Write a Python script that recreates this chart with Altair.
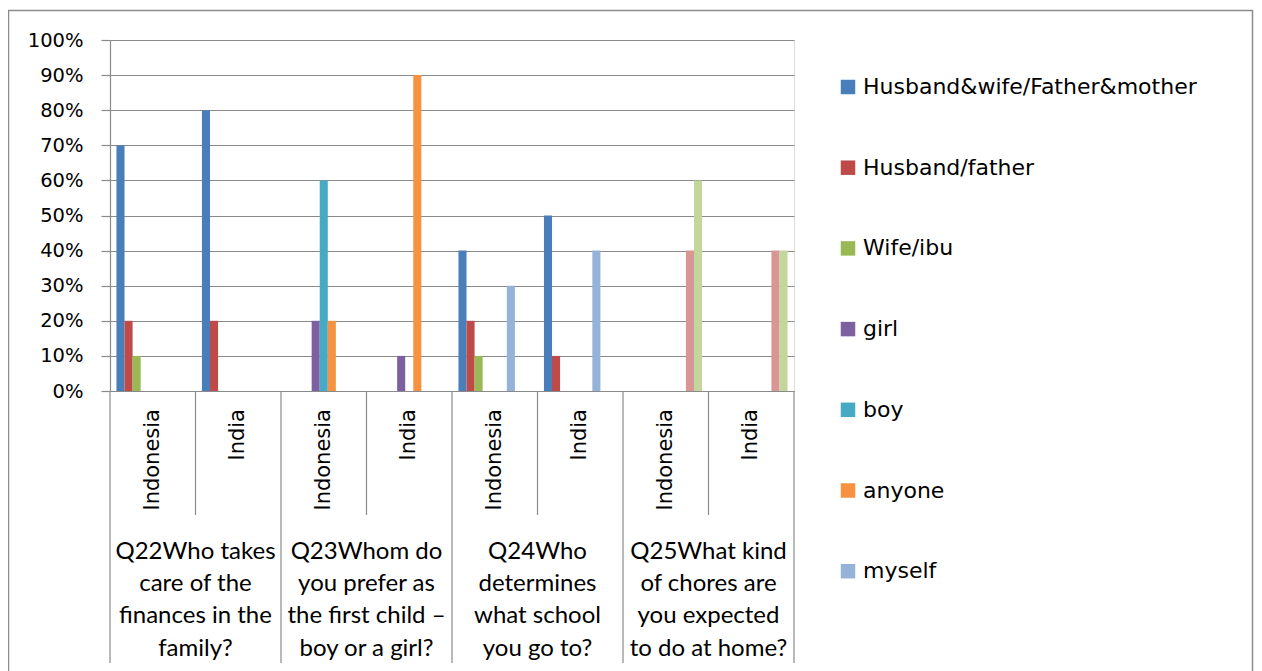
import altair as alt
import pandas as pd

# ---------------- data ----------------
question_lines = [
    ["Q22Who takes", "care of the", "finances in the", "family?"],
    ["Q23Whom do", "you prefer as", "the first child \u2013", "boy or a girl?"],
    ["Q24Who", "determines", "what school", "you go to?"],
    ["Q25What kind", "of chores are", "you expected", "to do at home?"],
]
question_ids = ["Q22", "Q23", "Q24", "Q25"]
countries = ["Indonesia", "India"]

series = [
    "Husband&wife/Father&mother",
    "Husband/father",
    "Wife/ibu",
    "girl",
    "boy",
    "anyone",
    "myself",
    "Series 8",
    "Series 9",
]
legend_series = series[:7]
colors = ["#4A7EBB", "#BE4B48", "#98B954", "#7D60A0", "#46AAC5", "#F69240",
          "#95B3D7", "#D99694", "#C3D69B"]

# values per column: Q22 Indonesia, Q22 India, Q23 Indonesia, Q23 India,
#                    Q24 Indonesia, Q24 India, Q25 Indonesia, Q25 India
hw_fm   = [0.7, 0.8, 0.0, 0.0, 0.4, 0.5, 0.0, 0.0]
h_f     = [0.2, 0.2, 0.0, 0.0, 0.2, 0.1, 0.0, 0.0]
wife    = [0.1, 0.0, 0.0, 0.0, 0.1, 0.0, 0.0, 0.0]
girl    = [0.0, 0.0, 0.2, 0.1, 0.0, 0.0, 0.0, 0.0]
boy     = [0.0, 0.0, 0.6, 0.0, 0.0, 0.0, 0.0, 0.0]
anyone  = [0.0, 0.0, 0.2, 0.9, 0.0, 0.0, 0.0, 0.0]
myself  = [0.0, 0.0, 0.0, 0.0, 0.3, 0.4, 0.0, 0.0]
ser8    = [0.0, 0.0, 0.0, 0.0, 0.0, 0.0, 0.4, 0.4]
ser9    = [0.0, 0.0, 0.0, 0.0, 0.0, 0.0, 0.6, 0.4]
all_values = [hw_fm, h_f, wife, girl, boy, anyone, myself, ser8, ser9]

y_ticks = [0.0, 0.1, 0.2, 0.3, 0.4, 0.5, 0.6, 0.7, 0.8, 0.9, 1.0]

# ---------------- tables ----------------
keys, key_country = [], []
for q in question_ids:
    for c in countries:
        keys.append(f"{q} {c}")
        key_country.append(c)

bar_rows = []
for s, vals in zip(series, all_values):
    for k, v in zip(keys, vals):
        if v > 0:
            bar_rows.append({"key": k, "series": s, "value": v})
bars_df = pd.DataFrame(bar_rows)

country_df = pd.DataFrame({"key": keys, "country": key_country})
q_start_df = pd.DataFrame({"key": [k for k, c in zip(keys, key_country) if c == "Indonesia"]})
q_mid_df = pd.DataFrame({
    "key": [k for k, c in zip(keys, key_country) if c == "India"],
    "label": ["\n".join(lines) for lines in question_lines],
})
q_end_df = pd.DataFrame({"key": [keys[-1]]})

W, H = 684, 351
FONT = "DejaVu Sans"
QFONT = "Lato"
GRID = "#8A8A8A"

xscale = alt.Scale(domain=keys, paddingInner=0, paddingOuter=0)

def xenc(band=0.5):
    return alt.X("key:N", scale=xscale, axis=None, sort=keys, bandPosition=band)

bars = alt.Chart(bars_df).mark_bar().encode(
    x=alt.X("key:N", scale=xscale, axis=None, sort=keys),
    xOffset=alt.XOffset("series:N", sort=series,
                        scale=alt.Scale(domain=series, paddingInner=0, paddingOuter=0.8)),
    y=alt.Y("value:Q", scale=alt.Scale(domain=[0, 1], nice=False),
            axis=alt.Axis(values=y_ticks, format=".0%", title=None, grid=True,
                          gridColor=GRID, gridWidth=1.2, domainColor=GRID, domainWidth=1.2,
                          tickColor=GRID, tickWidth=1.2, tickSize=9, labelPadding=18,
                          labelFont=FONT, labelFontSize=19.5, labelColor="#000000")),
    color=alt.Color("series:N", sort=series,
                    scale=alt.Scale(domain=series, range=colors),
                    legend=alt.Legend(values=legend_series, title=None, orient="none",
                                      legendX=727, legendY=36, symbolType="square",
                                      symbolSize=210, symbolStrokeWidth=0,
                                      labelFont=FONT, labelFontSize=22, labelColor="#000000",
                                      labelOffset=4, labelLimit=500, rowPadding=58.7,
                                      padding=0)),
)

border = alt.Chart(pd.DataFrame({"b": [0]})).mark_rect(
    fillOpacity=0, stroke="#8C8C8C", strokeWidth=1.5
).encode(x=alt.value(-101.5), x2=alt.value(1142.5), y=alt.value(-29.5), y2=alt.value(640))

long_rules = alt.Chart(q_start_df).mark_rule(color=GRID, strokeWidth=1.2).encode(
    x=xenc(0), y=alt.value(H), y2=alt.value(623))
end_rule = alt.Chart(q_end_df).mark_rule(color=GRID, strokeWidth=1.2).encode(
    x=xenc(1), y=alt.value(H), y2=alt.value(623))
short_rules = alt.Chart(q_mid_df).mark_rule(color=GRID, strokeWidth=1.2).encode(
    x=xenc(0), y=alt.value(H), y2=alt.value(475))

country_text = alt.Chart(country_df).mark_text(
    angle=270, align="right", baseline="middle", font=FONT, fontSize=21, color="#000000"
).encode(x=xenc(0.5), y=alt.value(369), text="country:N")

question_text = alt.Chart(q_mid_df).mark_text(
    align="center", baseline="alphabetic", lineBreak="\n", lineHeight=32.4,
    font=QFONT, fontSize=24, color="#000000"
).encode(x=xenc(0), y=alt.value(518.5), text="label:N")

chart = alt.layer(
    border, bars, long_rules, end_rule, short_rules, country_text, question_text
).properties(
    width=W, height=H,
    padding={"left": 102, "top": 32, "right": 460, "bottom": 280},
    autosize=alt.AutoSizeParams(type="none"),
).configure_view(stroke=None).configure(background="#FFFFFF")

chart.save("out.html", embed_options={"renderer": "svg", "actions": False})
